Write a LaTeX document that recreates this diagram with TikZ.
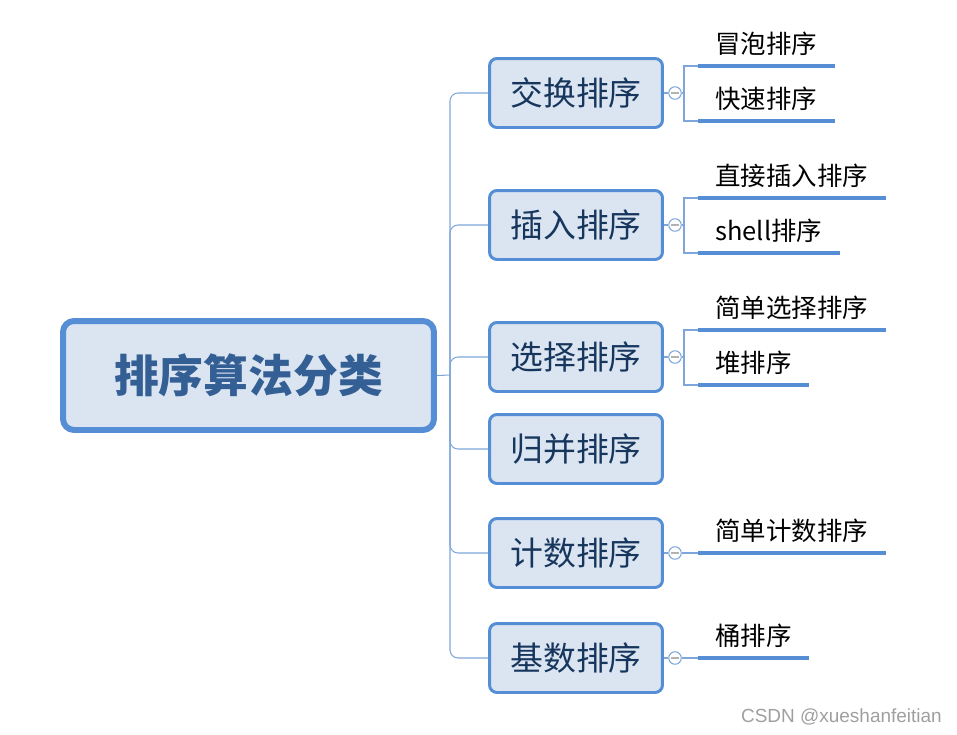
\documentclass[tikz,border=0pt]{standalone}
\usepackage{fontspec}
\setmainfont{Noto Sans CJK SC}
\newfontfamily\markfont{Liberation Sans}
\usepackage{xcolor}
\definecolor{boxfill}{HTML}{DBE5F1}
\definecolor{boxdraw}{HTML}{558ED5}
\definecolor{roottext}{HTML}{335F95}
\definecolor{subtext}{HTML}{17365D}
\definecolor{connline}{HTML}{7EA6DA}

\begin{document}
\begin{tikzpicture}[x=0.02cm,y=-0.02cm,
    rootbox/.style={draw=boxdraw, line width=3.4pt, fill=boxfill, rounded corners=0.22cm,
        minimum width=7.42cm, minimum height=2.18cm, text=roottext, font=\fontsize{25.5}{30}\selectfont\bfseries},
    sortbox/.style={draw=boxdraw, line width=1.7pt, fill=boxfill, rounded corners=0.15cm,
        minimum width=3.46cm, minimum height=1.38cm, text=subtext, font=\fontsize{18.7}{22}\selectfont},
    leaf/.style={anchor=south west, inner xsep=0.34cm, inner ysep=0.2cm, font=\fontsize{14.5}{17}\selectfont},
    leafline/.style={draw=boxdraw, line width=2.2pt},
    conn/.style={draw=connline, line width=0.6pt},
    toggle/.style={circle, draw=connline, fill=white, line width=0.6pt, minimum size=0.25cm, inner sep=0pt,
        path picture={\draw[gray!60, line width=0.8pt]
            ([xshift=-2pt]path picture bounding box.center) -- ([xshift=2pt]path picture bounding box.center);}}]
    \useasboundingbox (0,0) rectangle (957,734);

    % root and sort categories
    \node[rootbox] (root) at (248.5,375.5) {排序算法分类};
    \node[sortbox] (swap) at (576,93) {交换排序};
    \node[sortbox] (insert) at (576,225) {插入排序};
    \node[sortbox] (select) at (576,357) {选择排序};
    \node[sortbox] (merge) at (576,449) {归并排序};
    \node[sortbox] (count) at (576,553) {计数排序};
    \node[sortbox] (radix) at (576,658) {基数排序};

    % trunk
    \coordinate (hub) at (450,375);
    \draw[conn] (root.east) -- (hub);
    \foreach \b in {swap,insert,select,merge,count,radix}
        \draw[conn, rounded corners=0.16cm] (hub) |- (\b.west);

    % collapse toggles
    \node[toggle] (t1) at (675,93) {};
    \node[toggle] (t2) at (675,225) {};
    \node[toggle] (t3) at (675,357) {};
    \node[toggle] (t5) at (675,553) {};
    \node[toggle] (t6) at (675,658) {};
    \draw[conn] (swap.east) -- (t1);
    \draw[conn] (insert.east) -- (t2);
    \draw[conn] (select.east) -- (t3);
    \draw[conn] (count.east) -- (t5);
    \draw[conn] (radix.east) -- (t6);

    % leaves
    \node[leaf] (bubble) at (698,66) {冒泡排序};
    \node[leaf] (quick) at (698,121) {快速排序};
    \node[leaf] (direct) at (698,198) {直接插入排序};
    \node[leaf] (shell) at (698,253) {shell排序};
    \node[leaf] (simple) at (698,330) {简单选择排序};
    \node[leaf] (heap) at (698,385) {堆排序};
    \node[leaf] (counting) at (698,553) {简单计数排序};
    \node[leaf] (bucket) at (698,658) {桶排序};
    \foreach \l in {bubble,quick,direct,shell,simple,heap,counting,bucket}
        \draw[leafline] (\l.south west) -- (\l.south east);

    % brackets
    \coordinate (k1) at (684,93);
    \coordinate (k2) at (684,225);
    \coordinate (k3) at (684,357);
    \draw[conn] (t1.east) -- (k1);
    \draw[conn] (t2.east) -- (k2);
    \draw[conn] (t3.east) -- (k3);
    \draw[conn] (bubble.south west) -| (k1) |- (quick.south west);
    \draw[conn] (direct.south west) -| (k2) |- (shell.south west);
    \draw[conn] (simple.south west) -| (k3) |- (heap.south west);
    \draw[conn] (t5.east) -- (counting.south west);
    \draw[conn] (t6.east) -- (bucket.south west);

    \node[font=\markfont\fontsize{10.8}{12}\selectfont, text=gray!75, anchor=east] (mark) at (948,717) {CSDN @xueshanfeitian};
\end{tikzpicture}
\end{document}
